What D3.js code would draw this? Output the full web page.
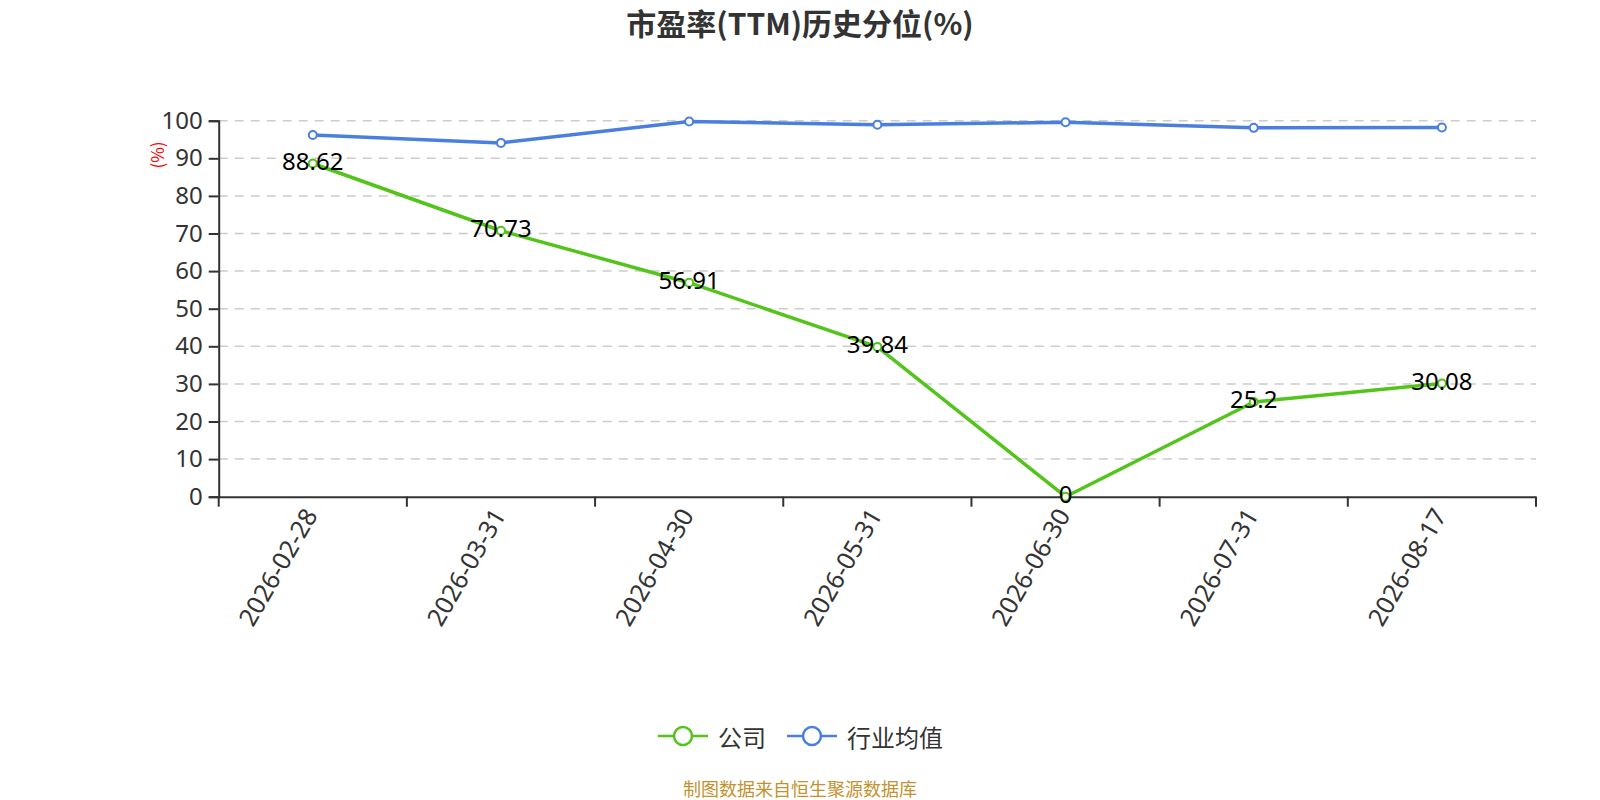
<!DOCTYPE html>
<html><head><meta charset="utf-8">
<script src="https://cdn.jsdelivr.net/npm/d3@7/dist/d3.min.js"></script>
<style>body{margin:0;background:#fff;} svg{display:block;font-family:"Noto Sans CJK SC","Noto Sans",sans-serif;}</style>
</head><body>
<svg id="c" width="1600" height="800"></svg>
<script>
const categories = ["2026-02-28","2026-03-31","2026-04-30","2026-05-31","2026-06-30","2026-07-31","2026-08-17"];
const companyValues = [88.62, 70.73, 56.91, 39.84, 0, 25.2, 30.08];
const industryValues = [96.2, 94.1, 99.8, 98.9, 99.6, 98.1, 98.2];
const yTicks = [0,10,20,30,40,50,60,70,80,90,100];
const seriesNames = ["公司","行业均值"];
const colors = ["#52c41a","#4a7fe0"];

(function(){
const svg = d3.select("#c");
const pLeft = 218.7, pRight = 1536, pTop = 120.7, pBottom = 496.7;
const x = d3.scaleBand().domain(categories).range([pLeft, pRight]);
const y = d3.scaleLinear().domain([0,100]).range([pBottom, pTop]);

// title
svg.append("text").attr("x",800).attr("y",22).attr("text-anchor","middle").attr("dominant-baseline","central")
  .attr("font-size",30).attr("font-weight","bold").attr("fill","#333").text("市盈率(TTM)历史分位(%)");

// grid
svg.append("g").selectAll("line").data(yTicks.filter(d=>d>0)).join("line")
  .attr("x1",pLeft).attr("x2",pRight).attr("y1",d=>y(d)).attr("y2",d=>y(d))
  .attr("stroke","#ccc").attr("stroke-width",1.5).attr("stroke-dasharray","9,7");

// y axis
const ya = svg.append("g").attr("transform",`translate(${pLeft},0)`)
  .call(d3.axisLeft(y).tickValues(yTicks).tickSize(10).tickPadding(6));
ya.select(".domain").attr("stroke","#333").attr("stroke-width",2);
ya.selectAll(".tick line").attr("stroke","#333").attr("stroke-width",2);
ya.selectAll(".tick text").attr("font-size",24).attr("fill","#333").attr("font-family","'Noto Sans',sans-serif");

// x axis
const xa = svg.append("g").attr("transform",`translate(0,${pBottom})`)
  .call(d3.axisBottom(x).tickSize(0).tickPadding(0));
xa.select(".domain").attr("stroke","#333").attr("stroke-width",2);
xa.selectAll(".tick text").remove();
const bounds = categories.map(c=>x(c)).concat([pRight]);
xa.selectAll("line.b").data(bounds).join("line").attr("class","b")
  .attr("x1",d=>d).attr("x2",d=>d).attr("y1",0).attr("y2",10).attr("stroke","#333").attr("stroke-width",2);
xa.selectAll("text.l").data(categories).join("text").attr("class","l")
  .attr("transform",d=>`translate(${x(d)+x.bandwidth()/2-2},14) rotate(-60)`)
  .attr("text-anchor","end").attr("dy","0.35em").attr("font-size",25).attr("fill","#333")
  .attr("font-family","'Noto Sans',sans-serif").text(d=>d);

// y axis name
svg.append("text").attr("transform",`translate(156,155) rotate(-90)`).attr("text-anchor","middle")
  .attr("dominant-baseline","central").attr("font-size",17).attr("fill","red").text("(%)");

const cx = d => x(d)+x.bandwidth()/2;
const line = d3.line().x((d,i)=>cx(categories[i])).y(d=>y(d));
[industryValues, companyValues].forEach((vals,k)=>{
  const col = k===0?colors[1]:colors[0];
  svg.append("path").datum(vals).attr("d",line).attr("fill","none").attr("stroke",col).attr("stroke-width",3.5).attr("stroke-linejoin","round");
  svg.append("g").selectAll("circle").data(vals).join("circle")
    .attr("cx",(d,i)=>cx(categories[i])).attr("cy",d=>y(d)).attr("r",4)
    .attr("fill","#fff").attr("stroke",col).attr("stroke-width",2);
});
// labels for company
svg.append("g").selectAll("text").data(companyValues).join("text")
  .attr("x",(d,i)=>cx(categories[i])).attr("y",d=>y(d)-3).attr("text-anchor","middle").attr("dominant-baseline","central")
  .attr("font-size",24).attr("fill","#000").attr("font-family","'Noto Sans',sans-serif").text(d=>d);

// legend
const legendItems = [{n:seriesNames[0],c:colors[0],x0:658,tx:718},{n:seriesNames[1],c:colors[1],x0:787,tx:847}];
const lg = svg.append("g");
legendItems.forEach(it=>{
  lg.append("line").attr("x1",it.x0).attr("x2",it.x0+50).attr("y1",736).attr("y2",736).attr("stroke",it.c).attr("stroke-width",2.5);
  lg.append("circle").attr("cx",it.x0+25).attr("cy",736).attr("r",9).attr("fill","#fff").attr("stroke",it.c).attr("stroke-width",2.5);
  lg.append("text").attr("x",it.tx).attr("y",736).attr("dominant-baseline","central").attr("font-size",24).attr("fill","#333").text(it.n);
});

// footer
svg.append("text").attr("x",800).attr("y",788).attr("text-anchor","middle").attr("dominant-baseline","central")
  .attr("font-size",18).attr("fill","#c3922e").text("制图数据来自恒生聚源数据库");
})();
</script>
</body></html>
